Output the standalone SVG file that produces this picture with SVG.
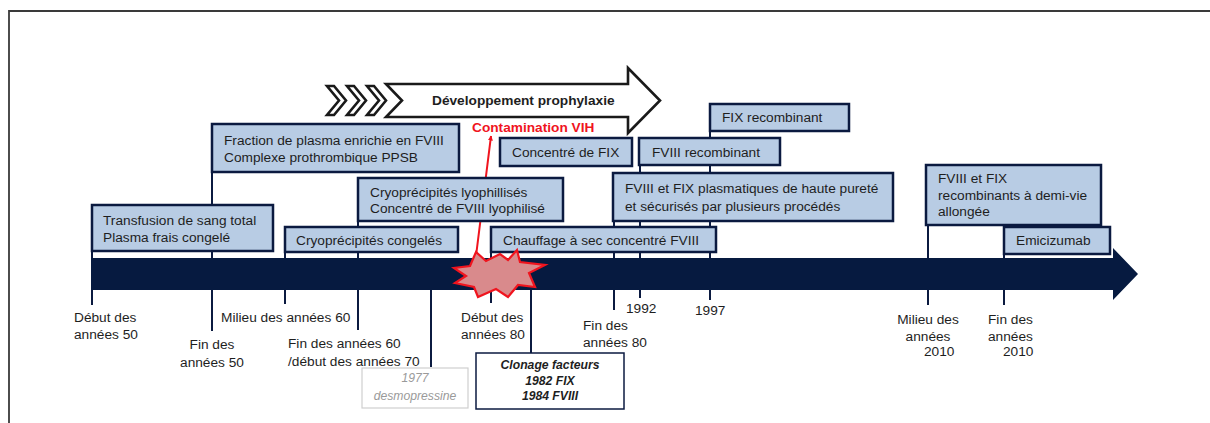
<svg xmlns="http://www.w3.org/2000/svg" width="1210" height="423" viewBox="0 0 1210 423">
<defs>
<style>
.t{font-family:"Liberation Sans",Arial,sans-serif;font-size:13.7px;fill:#1e1e1e}
.box{fill:#b8cce4;stroke:#0b1a40;stroke-width:2.5}
.con{stroke:#0b1a40;stroke-width:2;fill:none}
.chev{fill:#fff;stroke:#1a1a1a;stroke-width:2.6;stroke-linejoin:miter}
.it{font-style:italic;font-size:12.2px}
</style>
<marker id="ah" viewBox="0 0 10 10" refX="9" refY="5" markerWidth="5" markerHeight="5" orient="auto" markerUnits="userSpaceOnUse">
<path d="M0,0 L10,5 L0,10 Z" fill="#f0141e"/>
</marker>
</defs>
<rect width="1210" height="423" fill="#fff"/>
<path d="M9,423 V11 H1210" fill="none" stroke="#3a3a3a" stroke-width="1.8"/>

<g id="connectors">
<path class="con" d="M212,172 V331 M92,251 V305 M285,252 V304 M358,221 V330 M431,290 V367 M491,252 V303 M531,290 V353 M614,221 V310 M640,165 V298 M710,131 V300 M928,225 V305 M1004,225 V305"/>
<line x1="475" y1="264" x2="491" y2="136" stroke="#f0141e" stroke-width="2" marker-end="url(#ah)"/>
</g>

<g id="prophylaxie">
<polygon class="chev" points="327,86 334,86 346,100.5 334,115 327,115 339,100.5"/>
<polygon class="chev" points="347,86 354,86 366,100.5 354,115 347,115 359,100.5"/>
<polygon class="chev" points="367,86 374,86 386,100.5 374,115 367,115 379,100.5"/>
<polygon class="chev" points="386,84 628,84 628,68 660,100.5 628,133 628,117 386,117 402,100.5"/>
<text class="t" x="432" y="105" font-weight="bold" font-size="13.6">Développement prophylaxie</text>
</g>

<g id="timeline">
<path d="M91,258 H1113 V248 L1138,274 L1113,300 V290 H91 Z" fill="#061a40"/>
</g>

<g id="n-transfusion">
<rect class="box" x="92" y="205" width="181" height="46"/>
<text class="t" x="103" y="225">Transfusion de sang total</text>
<text class="t" x="103" y="242">Plasma frais congelé</text>
</g>
<g id="n-fraction">
<rect class="box" x="212" y="124" width="247" height="48"/>
<text class="t" x="224" y="145">Fraction de plasma enrichie en FVIII</text>
<text class="t" x="224" y="162">Complexe prothrombique PPSB</text>
</g>
<g id="n-cryolyo">
<rect class="box" x="358" y="178" width="205" height="43"/>
<text class="t" x="370" y="197">Cryoprécipités lyophillisés</text>
<text class="t" x="370" y="213">Concentré de FVIII lyophilisé</text>
</g>
<g id="n-cryocong">
<rect class="box" x="285" y="227" width="173" height="25"/>
<text class="t" x="296" y="245">Cryoprécipités congelés</text>
</g>
<g id="n-concfix">
<rect class="box" x="500" y="138" width="132" height="28"/>
<text class="t" x="512" y="157">Concentré de FIX</text>
</g>
<g id="n-fviiirec">
<rect class="box" x="639" y="138" width="141" height="27"/>
<text class="t" x="652" y="157">FVIII recombinant</text>
</g>
<g id="n-fixrec">
<rect class="box" x="710" y="104" width="139" height="27"/>
<text class="t" x="722" y="122">FIX recombinant</text>
</g>
<g id="n-plasmatiques">
<rect class="box" x="613" y="173" width="280" height="48"/>
<text class="t" x="625" y="193">FVIII et FIX plasmatiques de haute pureté</text>
<text class="t" x="625" y="211">et sécurisés par plusieurs procédés</text>
</g>
<g id="n-chauffage">
<rect class="box" x="491" y="227" width="225" height="25"/>
<text class="t" x="503" y="245">Chauffage à sec concentré FVIII</text>
</g>
<g id="n-demivie">
<rect class="box" x="926" y="165" width="175" height="60"/>
<text class="t" x="938" y="183">FVIII et FIX</text>
<text class="t" x="938" y="200">recombinants à demi-vie</text>
<text class="t" x="938" y="216">allongée</text>
</g>
<g id="n-emicizumab">
<rect class="box" x="1004" y="227" width="106" height="27"/>
<text class="t" x="1016" y="245">Emicizumab</text>
</g>

<g id="n-vih">
<polygon points="476,252 486,261 500,254 508,260 517,250 520,262 545,265 529,273 535,287 518,285 508,297 496,289 478,297 474,287 455,283 466,276 454,268 470,266" fill="#d98a8c" stroke="#f0141e" stroke-width="2.2" stroke-linejoin="miter"/>
<text class="t" x="472" y="132" font-weight="bold" font-size="13.6" style="fill:#f0141e">Contamination VIH</text>
</g>

<g id="labels">
<text class="t" x="74" y="322">Début des</text>
<text class="t" x="74" y="339">années 50</text>
<text class="t" x="212" y="349" text-anchor="middle">Fin des</text>
<text class="t" x="212" y="367" text-anchor="middle">années 50</text>
<text class="t" x="221" y="322">Milieu des années 60</text>
<text class="t" x="288" y="348">Fin des années 60</text>
<text class="t" x="288" y="366">/début des années 70</text>
<text class="t" x="461" y="322">Début des</text>
<text class="t" x="461" y="339">années 80</text>
<text class="t" x="583" y="330">Fin des</text>
<text class="t" x="583" y="347">années 80</text>
<text class="t" x="626" y="313">1992</text>
<text class="t" x="695" y="315">1997</text>
<text class="t" x="928" y="324" text-anchor="middle">Milieu des</text>
<text class="t" x="928" y="341" text-anchor="middle">années</text>
<text class="t" x="924" y="356">2010</text>
<text class="t" x="988" y="324">Fin des</text>
<text class="t" x="988" y="341">années</text>
<text class="t" x="1003" y="356">2010</text>
</g>

<g id="n-desmo">
<rect x="362" y="368" width="106" height="40" fill="#fff" stroke="#cfcfcf" stroke-width="1.2"/>
<text class="t it" x="415" y="382" text-anchor="middle" style="fill:#9a9a9a">1977</text>
<text class="t it" x="415" y="400" text-anchor="middle" style="fill:#9a9a9a">desmopressine</text>
</g>

<g id="n-clonage">
<rect x="476" y="353" width="148" height="56" fill="#fff" stroke="#0b1a40" stroke-width="1.5"/>
<text class="t it" x="550" y="369" text-anchor="middle" font-weight="bold">Clonage facteurs</text>
<text class="t it" x="550" y="385" text-anchor="middle" font-weight="bold">1982 FIX</text>
<text class="t it" x="550" y="400" text-anchor="middle" font-weight="bold">1984 FVIII</text>
</g>
</svg>
